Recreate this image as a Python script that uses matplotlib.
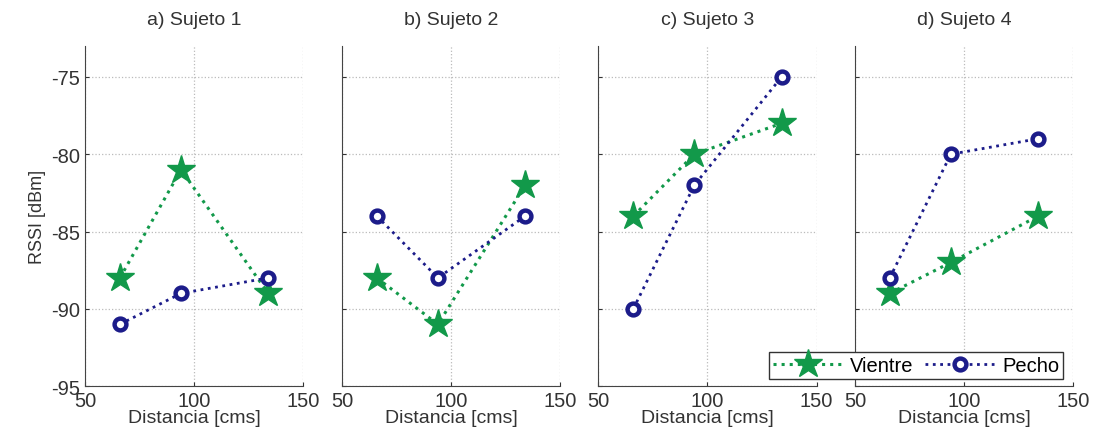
import matplotlib.pyplot as plt

plt.rcParams["font.family"] = ["Liberation Sans", "DejaVu Sans"]
plt.rcParams["font.size"] = 14
plt.rcParams["axes.unicode_minus"] = False

distancia = [66, 94, 134]
titles = ["a) Sujeto 1", "b) Sujeto 2", "c) Sujeto 3", "d) Sujeto 4"]
vientre = [
    [-88, -81, -89],
    [-88, -91, -82],
    [-84, -80, -78],
    [-89, -87, -84],
]
pecho = [
    [-91, -89, -88],
    [-84, -88, -84],
    [-90, -82, -75],
    [-88, -80, -79],
]

GREEN = "#12994a"
NAVY = "#1c1c8a"
TEXT = "#333333"


def main():
    fig = plt.figure(figsize=(10.96, 4.35), dpi=100)
    lefts = [0.0776, 0.312, 0.546, 0.780]
    handles = None
    for i in range(4):
        ax = fig.add_axes([lefts[i], 0.110, 0.199, 0.782])
        (hv,) = ax.plot(
            distancia, vientre[i], ":", color=GREEN, lw=2.2,
            marker="*", markersize=21, label="Vientre",
        )
        (hp,) = ax.plot(
            distancia, pecho[i], ":", color=NAVY, lw=2.0,
            marker="o", markersize=8.5, markerfacecolor="white",
            markeredgewidth=3.2, label="Pecho",
        )
        handles = [hv, hp]
        ax.set_xlim(50, 150)
        ax.set_ylim(-95, -73)
        ax.set_xticks([50, 100, 150])
        ax.set_yticks([-95, -90, -85, -80, -75])
        ax.grid(True, ls=":", color="#bbbbbb", lw=0.9)
        for s in ("top", "right"):
            ax.spines[s].set_visible(False)
        for s in ("left", "bottom"):
            ax.spines[s].set_color("#444444")
        ax.tick_params(direction="in", colors=TEXT, labelsize=14.5, length=3)
        ax.set_title(titles[i], color=TEXT, fontsize=14, pad=16)
        ax.set_xlabel("Distancia [cms]", color=TEXT, labelpad=-1)
        if i == 0:
            ax.set_ylabel("RSSI [dBm]", color=TEXT, fontsize=13)
        else:
            ax.tick_params(labelleft=False)
        ax.set_facecolor("none")

    fig.legend(
        handles, ["Vientre", "Pecho"], ncol=2, loc="lower right",
        bbox_to_anchor=(0.970, 0.126), borderaxespad=0, fancybox=False,
        edgecolor="#333333", framealpha=1, handlelength=3.4,
        columnspacing=0.6, borderpad=0.2, handletextpad=0.4, fontsize=14.5,
    )
    fig.savefig("out.png", dpi=100)


if __name__ == "__main__":
    main()
